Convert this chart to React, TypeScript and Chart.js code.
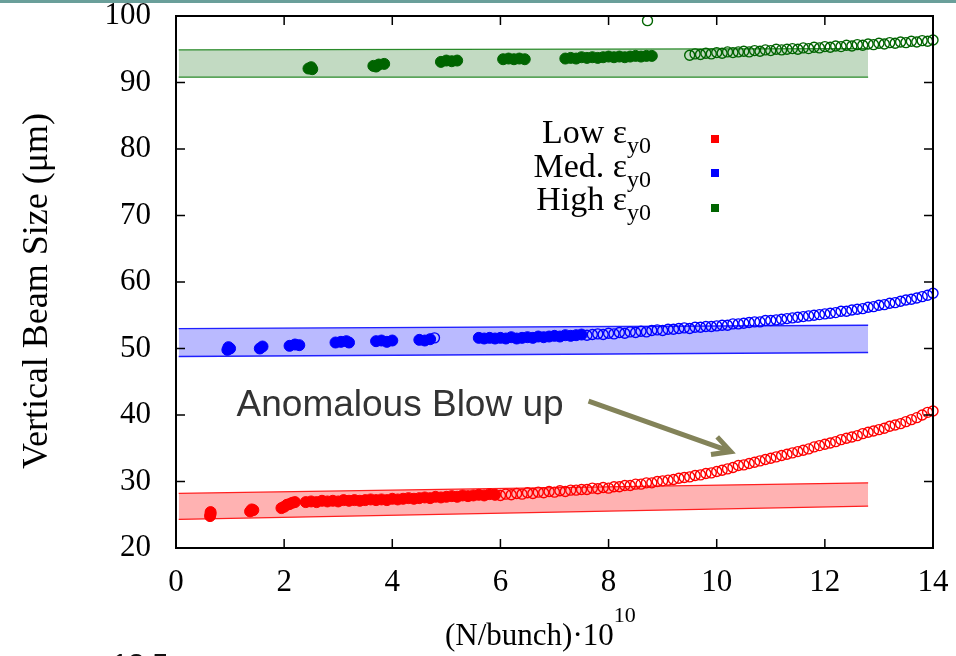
import React, { useEffect, useRef } from "react";
import { Chart, registerables } from "chart.js";

Chart.register(...registerables);

// ---------- axis ticks ----------
const xTicks = [0, 2, 4, 6, 8, 10, 12, 14];
const yTicks = [20, 30, 40, 50, 60, 70, 80, 90, 100];
const seriesNames = ["Low", "Med.", "High"];
const seriesColors = ["#ff0000", "#0000ff", "#006400"];

// ---------- shaded bands: lower / upper edge at both ends ----------
const bandX = [0.05, 12.8];
const lowBandLower = [24.3, 26.3];
const lowBandUpper = [28.2, 29.8];
const medBandLower = [48.8, 49.4];
const medBandUpper = [53.0, 53.5];
const highBandLower = [90.8, 90.8];
const highBandUpper = [94.9, 95.1];

// ---------- Low emittance (red) ----------
const lowFilled: [number, number][] = [
  [0.63, 24.8], [0.64, 25.1], [0.64, 25.4],
  [1.37, 25.5], [1.4, 25.8], [1.43, 25.7],
  [1.95, 26.0], [2.0, 26.2], [2.05, 26.5], [2.1, 26.6], [2.15, 26.8], [2.2, 26.9],
  [2.4, 26.9], [2.5, 27.0], [2.6, 26.9], [2.7, 27.1], [2.8, 27.0], [2.9, 27.1],
  [3.0, 27.0], [3.1, 27.2], [3.2, 27.1], [3.3, 27.2], [3.4, 27.1], [3.5, 27.2],
  [3.6, 27.3], [3.7, 27.2], [3.8, 27.3], [3.9, 27.2], [4.0, 27.4], [4.1, 27.3],
  [4.2, 27.4], [4.3, 27.5], [4.4, 27.4], [4.5, 27.5], [4.6, 27.6], [4.7, 27.5],
  [4.8, 27.7], [4.9, 27.6], [5.0, 27.7], [5.1, 27.8], [5.2, 27.7], [5.3, 27.9],
  [5.4, 27.8], [5.5, 27.9], [5.6, 28.0], [5.7, 27.9], [5.8, 28.1], [5.9, 28.0],
];
const lowOpen: [number, number][] = [
  [6.0, 27.9], [6.1, 28.1], [6.2, 28.0], [6.3, 28.2], [6.4, 28.1], [6.5, 28.3],
  [6.6, 28.2], [6.7, 28.4], [6.8, 28.3], [6.9, 28.5], [7.0, 28.4], [7.1, 28.6],
  [7.2, 28.5], [7.3, 28.7], [7.4, 28.7], [7.5, 28.8], [7.6, 28.8], [7.7, 29.0],
  [7.8, 28.9], [7.9, 29.1], [8.0, 29.0], [8.1, 29.2], [8.2, 29.2], [8.3, 29.4],
  [8.4, 29.4], [8.5, 29.6], [8.6, 29.6], [8.7, 29.8], [8.8, 29.8], [8.9, 30.0],
  [9.0, 30.1], [9.1, 30.2], [9.2, 30.3], [9.3, 30.5], [9.4, 30.6], [9.5, 30.7],
  [9.6, 30.9], [9.7, 31.0], [9.8, 31.2], [9.9, 31.3], [10.0, 31.5], [10.1, 31.7],
  [10.2, 31.9], [10.3, 32.1], [10.4, 32.4], [10.5, 32.5], [10.6, 32.7], [10.7, 32.9],
  [10.8, 33.1], [10.9, 33.3], [11.0, 33.5], [11.1, 33.7], [11.2, 33.9], [11.3, 34.1],
  [11.4, 34.3], [11.5, 34.5], [11.6, 34.7], [11.7, 34.9], [11.8, 35.2], [11.9, 35.4],
  [12.0, 35.6], [12.1, 35.8], [12.2, 36.0], [12.3, 36.3], [12.4, 36.5], [12.5, 36.7],
  [12.6, 36.9], [12.7, 37.2], [12.8, 37.4], [12.9, 37.6], [13.0, 37.8], [13.1, 38.0],
  [13.2, 38.3], [13.3, 38.5], [13.4, 38.7], [13.5, 39.0], [13.6, 39.3], [13.7, 39.6],
  [13.8, 40.0], [13.9, 40.4], [14.0, 40.6],
];

// ---------- Medium emittance (blue) ----------
const medFilled: [number, number][] = [
  [0.95, 49.8], [0.97, 50.2], [1.0, 50.0],
  [1.55, 50.0], [1.6, 50.3],
  [2.1, 50.4], [2.2, 50.6], [2.28, 50.5],
  [2.95, 50.9], [3.05, 51.0], [3.15, 51.1], [3.2, 50.9],
  [3.7, 51.1], [3.8, 51.2], [3.9, 51.0], [4.0, 51.2],
  [4.5, 51.3], [4.6, 51.2], [4.7, 51.4],
  [5.6, 51.6], [5.7, 51.5], [5.8, 51.6], [5.9, 51.5], [6.0, 51.6], [6.1, 51.5],
  [6.2, 51.7], [6.3, 51.5], [6.4, 51.6], [6.5, 51.7], [6.6, 51.6], [6.7, 51.8],
  [6.8, 51.7], [6.9, 51.8], [7.0, 51.9], [7.1, 51.8], [7.2, 52.0], [7.3, 51.9],
  [7.4, 52.0], [7.5, 52.1],
];
const medOpen: [number, number][] = [
  [4.78, 51.6],
  [7.6, 52.0], [7.7, 52.1], [7.8, 52.2], [7.9, 52.1], [8.0, 52.3], [8.1, 52.2],
  [8.2, 52.4], [8.3, 52.3], [8.4, 52.5], [8.5, 52.4], [8.6, 52.6], [8.7, 52.5],
  [8.8, 52.7], [8.9, 52.8], [9.0, 52.7], [9.1, 52.9], [9.2, 52.9], [9.3, 53.0],
  [9.4, 53.1], [9.5, 53.0], [9.6, 53.2], [9.7, 53.2], [9.8, 53.3], [9.9, 53.3],
  [10.0, 53.4], [10.1, 53.5], [10.2, 53.5], [10.3, 53.7], [10.4, 53.7], [10.5, 53.8],
  [10.6, 53.9], [10.7, 54.0], [10.8, 54.0], [10.9, 54.2], [11.0, 54.2], [11.1, 54.3],
  [11.2, 54.4], [11.3, 54.5], [11.4, 54.6], [11.5, 54.7], [11.6, 54.8], [11.7, 54.9],
  [11.8, 55.0], [11.9, 55.1], [12.0, 55.2], [12.1, 55.3], [12.2, 55.4], [12.3, 55.6],
  [12.4, 55.6], [12.5, 55.8], [12.6, 55.9], [12.7, 56.0], [12.8, 56.2], [12.9, 56.3],
  [13.0, 56.5], [13.1, 56.6], [13.2, 56.8], [13.3, 56.9], [13.4, 57.1], [13.5, 57.3],
  [13.6, 57.4], [13.7, 57.6], [13.8, 57.8], [13.9, 58.0], [14.0, 58.3],
];

// ---------- High emittance (green) ----------
const highFilled: [number, number][] = [
  [2.45, 92.1], [2.5, 92.3], [2.52, 92.0],
  [3.65, 92.5], [3.7, 92.4], [3.75, 92.7], [3.85, 92.8],
  [4.9, 93.1], [5.0, 93.3], [5.1, 93.2], [5.2, 93.3],
  [6.05, 93.5], [6.15, 93.6], [6.25, 93.5], [6.35, 93.6], [6.45, 93.5],
  [7.2, 93.6], [7.3, 93.7], [7.4, 93.6], [7.5, 93.8], [7.6, 93.7], [7.7, 93.8],
  [7.8, 93.7], [7.9, 93.8], [8.0, 93.9], [8.1, 93.8], [8.2, 93.9], [8.3, 93.8],
  [8.4, 93.9], [8.5, 94.0], [8.6, 93.9], [8.7, 94.0], [8.8, 94.0],
];
const highOpen: [number, number][] = [
  [8.72, 99.3],
  [9.5, 94.1], [9.6, 94.3], [9.7, 94.2], [9.8, 94.4], [9.9, 94.3], [10.0, 94.5],
  [10.1, 94.4], [10.2, 94.6], [10.3, 94.5], [10.4, 94.6], [10.5, 94.7], [10.6, 94.6],
  [10.7, 94.8], [10.8, 94.7], [10.9, 94.9], [11.0, 94.8], [11.1, 95.0], [11.2, 94.9],
  [11.3, 95.0], [11.4, 95.1], [11.5, 95.0], [11.6, 95.2], [11.7, 95.1], [11.8, 95.3],
  [11.9, 95.2], [12.0, 95.4], [12.1, 95.3], [12.2, 95.5], [12.3, 95.4], [12.4, 95.6],
  [12.5, 95.5], [12.6, 95.7], [12.7, 95.6], [12.8, 95.8], [12.9, 95.7], [13.0, 95.9],
  [13.1, 95.8], [13.2, 96.0], [13.3, 95.9], [13.4, 96.1], [13.5, 96.0], [13.6, 96.2],
  [13.7, 96.1], [13.8, 96.3], [13.9, 96.2], [14.0, 96.4],
];

const annotationText = "Anomalous Blow up";
const arrowFrom = [7.63, 42.1];
const arrowTo = [10.26, 34.5];
const annotationPos = [1.12, 39.8];

const SERIF = '"Liberation Serif", "Times New Roman", serif';
const SANS = '"Liberation Sans", Arial, sans-serif';

const toPts = (arr: [number, number][]) => arr.map(([x, y]) => ({ x, y }));
const bandPts = (ys: number[]) => bandX.map((x, i) => ({ x, y: ys[i] }));

const decorPlugin = {
  id: "decor",
  beforeDraw(chart: any) {
    const ctx = chart.ctx;
    ctx.save();
    ctx.fillStyle = "#ffffff";
    ctx.fillRect(0, 0, chart.width, chart.height);
    ctx.fillStyle = "#6a9f9a";
    ctx.fillRect(0, 0, chart.width, 3);
    ctx.restore();
  },
  afterDraw(chart: any) {
    const ctx = chart.ctx;
    const xs = chart.scales.x;
    const ys = chart.scales.y;
    const { left, right, top, bottom } = chart.chartArea;
    ctx.save();
    // frame
    ctx.strokeStyle = "#000";
    ctx.lineWidth = 2;
    ctx.strokeRect(left, top, right - left, bottom - top);
    // inward ticks
    ctx.lineWidth = 1.5;
    const tl = 9;
    ctx.beginPath();
    xTicks.forEach((v) => {
      const px = xs.getPixelForValue(v);
      ctx.moveTo(px, bottom);
      ctx.lineTo(px, bottom - tl);
      ctx.moveTo(px, top);
      ctx.lineTo(px, top + tl);
    });
    yTicks.forEach((v) => {
      const py = ys.getPixelForValue(v);
      ctx.moveTo(left, py);
      ctx.lineTo(left + tl, py);
      ctx.moveTo(right, py);
      ctx.lineTo(right - tl, py);
    });
    ctx.stroke();

    // legend
    const legendRight = 651;
    const baselines = [143, 177, 210];
    const squares = [139, 173, 208];
    seriesNames.forEach((name, i) => {
      ctx.font = `24px ${SERIF}`;
      const subW = ctx.measureText("y0").width;
      ctx.fillStyle = "#000";
      ctx.font = `34px ${SERIF}`;
      ctx.textAlign = "right";
      ctx.textBaseline = "alphabetic";
      ctx.fillText(`${name} ε`, legendRight - subW, baselines[i]);
      ctx.font = `24px ${SERIF}`;
      ctx.textAlign = "left";
      ctx.fillText("y0", legendRight - subW, baselines[i] + 10);
      ctx.fillStyle = seriesColors[i];
      ctx.fillRect(711, squares[i] - 4, 8, 8);
    });

    // y axis title
    ctx.fillStyle = "#000";
    ctx.save();
    ctx.translate(38, 291);
    ctx.rotate(-Math.PI / 2);
    ctx.font = `36px ${SERIF}`;
    ctx.textAlign = "center";
    ctx.textBaseline = "middle";
    ctx.fillText("Vertical Beam Size (μm)", 0, 0);
    ctx.restore();

    // x axis title with superscript
    ctx.font = `31px ${SERIF}`;
    ctx.textAlign = "left";
    ctx.textBaseline = "alphabetic";
    const mainT = "(N/bunch)·10";
    ctx.fillText(mainT, 445, 645);
    const mw = ctx.measureText(mainT).width;
    ctx.font = `22px ${SERIF}`;
    ctx.fillText("10", 445 + mw, 622);

    // annotation and arrow
    ctx.font = `37px ${SANS}`;
    ctx.fillStyle = "#333333";
    ctx.textAlign = "left";
    ctx.fillText(
      annotationText,
      xs.getPixelForValue(annotationPos[0]),
      ys.getPixelForValue(annotationPos[1])
    );
    const x0 = xs.getPixelForValue(arrowFrom[0]);
    const y0 = ys.getPixelForValue(arrowFrom[1]);
    const x1 = xs.getPixelForValue(arrowTo[0]);
    const y1 = ys.getPixelForValue(arrowTo[1]);
    const ang = Math.atan2(y1 - y0, x1 - x0);
    ctx.strokeStyle = "#838359";
    ctx.lineWidth = 5;
    ctx.lineCap = "butt";
    ctx.beginPath();
    ctx.moveTo(x0, y0);
    ctx.lineTo(x1, y1);
    const hl = 20;
    const ha = Math.PI / 6.5;
    ctx.moveTo(x1 - hl * Math.cos(ang - ha), y1 - hl * Math.sin(ang - ha));
    ctx.lineTo(x1, y1);
    ctx.lineTo(x1 - hl * Math.cos(ang + ha), y1 - hl * Math.sin(ang + ha));
    ctx.stroke();

    // cut-off text at the bottom edge
    ctx.fillStyle = "#111";
    ctx.font = `29px ${SANS}`;
    ctx.textBaseline = "top";
    ctx.fillText("13.5", 112, 651);
    ctx.restore();
  },
};

const zeroPad = (s: any) => {
  s.paddingTop = 0;
  s.paddingBottom = 0;
  s.paddingLeft = 0;
  s.paddingRight = 0;
};

export default function App() {
  const ref = useRef<HTMLCanvasElement | null>(null);
  useEffect(() => {
    if (!ref.current) return;
    const band = (ys: number[], color: string, fillColor: string, fill: any) => ({
      data: bandPts(ys),
      showLine: true,
      borderColor: color,
      borderWidth: 1.3,
      backgroundColor: fillColor,
      pointRadius: 0,
      fill,
      order: 10,
    });
    const filled = (arr: [number, number][], color: string) => ({
      data: toPts(arr),
      showLine: false,
      pointRadius: 5.5,
      pointBackgroundColor: color,
      pointBorderColor: color,
      pointBorderWidth: 1,
      borderColor: color,
      backgroundColor: color,
      clip: false,
      order: 1,
    });
    const open = (arr: [number, number][], color: string) => ({
      data: toPts(arr),
      showLine: false,
      pointRadius: 5,
      pointBackgroundColor: "rgba(0,0,0,0)",
      pointBorderColor: color,
      pointBorderWidth: 1.4,
      borderColor: color,
      backgroundColor: "rgba(0,0,0,0)",
      clip: false,
      order: 0,
    });
    const chart = new Chart(ref.current, {
      type: "line",
      data: {
        datasets: [
          band(lowBandLower, "#ff2020", "rgba(255,0,0,0.3)", false),
          band(lowBandUpper, "#ff2020", "rgba(255,0,0,0.3)", "-1"),
          band(medBandLower, "#2020ff", "rgba(0,0,255,0.27)", false),
          band(medBandUpper, "#2020ff", "rgba(0,0,255,0.27)", "-1"),
          band(highBandLower, "#2a8a2a", "rgba(0,100,0,0.24)", false),
          band(highBandUpper, "#2a8a2a", "rgba(0,100,0,0.24)", "-1"),
          filled(lowFilled, seriesColors[0]),
          open(lowOpen, seriesColors[0]),
          filled(medFilled, seriesColors[1]),
          open(medOpen, seriesColors[1]),
          filled(highFilled, seriesColors[2]),
          open(highOpen, seriesColors[2]),
        ] as any,
      },
      options: {
        animation: false,
        responsive: false,
        devicePixelRatio: 1,
        layout: { padding: { top: 16, right: 23, left: 0, bottom: 0 } },
        plugins: {
          legend: { display: false },
          tooltip: { enabled: false },
        },
        scales: {
          x: {
            type: "linear",
            min: 0,
            max: 14,
            afterBuildTicks: (s: any) => {
              s.ticks = xTicks.map((v) => ({ value: v }));
            },
            afterFit: (s: any) => {
              s.height = 108;
              zeroPad(s);
            },
            grid: { display: false, drawTicks: false },
            border: { display: false },
            ticks: {
              autoSkip: false,
              maxRotation: 0,
              padding: 16,
              color: "#000",
              font: { family: SERIF, size: 31 },
            },
          },
          y: {
            type: "linear",
            min: 20,
            max: 100,
            afterBuildTicks: (s: any) => {
              s.ticks = yTicks.map((v) => ({ value: v }));
            },
            afterFit: (s: any) => {
              s.width = 176;
              zeroPad(s);
            },
            grid: { display: false, drawTicks: false },
            border: { display: false },
            ticks: {
              autoSkip: false,
              padding: 25,
              color: "#000",
              font: { family: SERIF, size: 31, lineHeight: 1 },
            },
          },
        },
      } as any,
      plugins: [decorPlugin],
    });
    return () => chart.destroy();
  }, []);
  return (
    <div style={{ position: "fixed", left: 0, top: 0, width: 956, height: 656, background: "#fff" }}>
      <canvas ref={ref} width={956} height={656} style={{ display: "block" }} />
    </div>
  );
}
